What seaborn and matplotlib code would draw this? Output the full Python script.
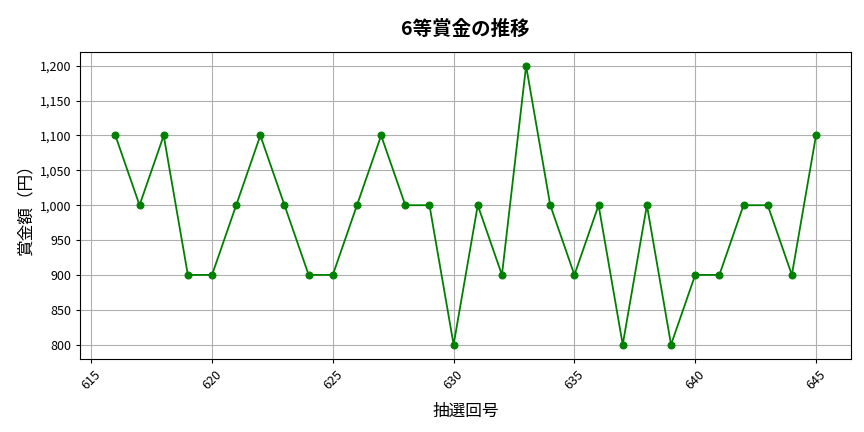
import matplotlib
matplotlib.use("Agg")
import matplotlib.pyplot as plt
import seaborn as sns
import pandas as pd
from matplotlib.ticker import FuncFormatter

draw_no = list(range(616, 646))
prize = [1100, 1000, 1100, 900, 900, 1000, 1100, 1000, 900, 900,
         1000, 1100, 1000, 1000, 800, 1000, 900, 1200, 1000, 900,
         1000, 800, 1000, 800, 900, 900, 1000, 1000, 900, 1100]

df = pd.DataFrame({'draw': draw_no, 'prize': prize})

sns.set_style("whitegrid")
plt.rcParams['font.family'] = ['Noto Sans CJK JP', 'DejaVu Sans']
plt.rcParams['text.color'] = 'black'
plt.rcParams['axes.labelcolor'] = 'black'
plt.rcParams['xtick.color'] = 'black'
plt.rcParams['ytick.color'] = 'black'

fig, ax = plt.subplots(figsize=(8.64, 4.32), dpi=100)
sns.lineplot(x='draw', y='prize', data=df, ax=ax, color='green',
             marker='o', markersize=5, markeredgecolor='green', linewidth=1.3)

ax.set_title("6等賞金の推移", fontsize=14, fontweight='bold', pad=12)
ax.set_xlabel("抽選回号", fontsize=12, labelpad=8)
ax.set_ylabel("賞金額（円）", fontsize=12)
ax.yaxis.set_major_formatter(FuncFormatter(lambda v, p: f"{int(v):,}"))
ax.set_xticks(range(615, 646, 5))
plt.setp(ax.get_xticklabels(), rotation=45)
ax.tick_params(labelsize=9, left=True, bottom=True, length=3)
ax.grid(True, color='#b0b0b0', linewidth=0.8)
for s in ax.spines.values():
    s.set_color('black')
    s.set_linewidth(0.8)

plt.subplots_adjust(left=0.093, right=0.985, top=0.88, bottom=0.17)
plt.savefig("out.png", dpi=100)
